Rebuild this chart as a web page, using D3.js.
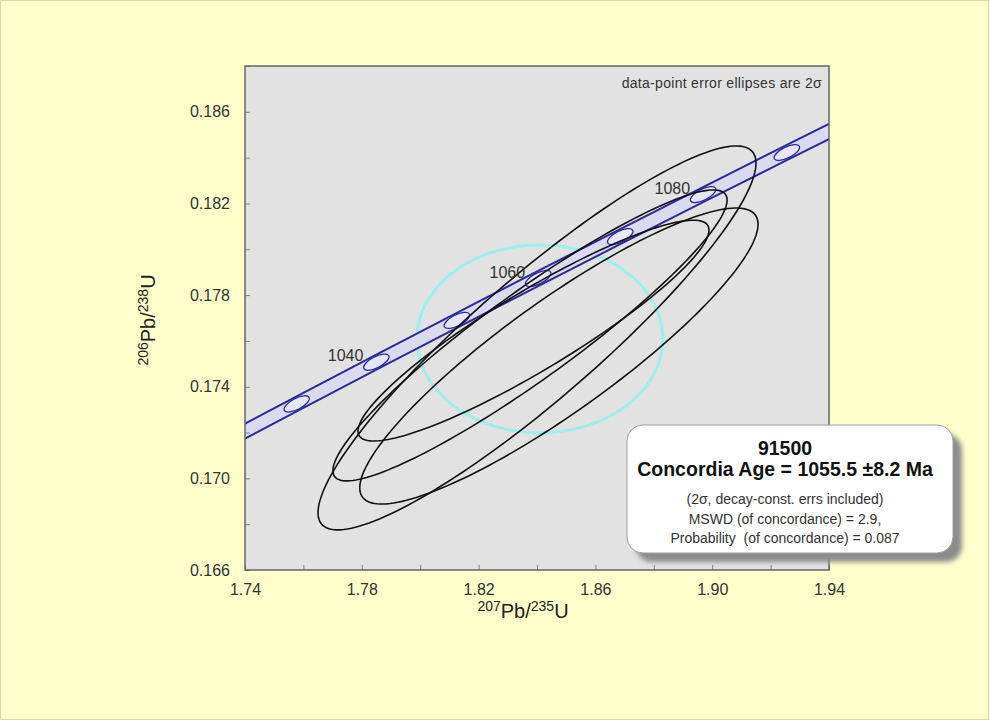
<!DOCTYPE html>
<html>
<head>
<meta charset="utf-8">
<script src="https://cdn.jsdelivr.net/npm/d3@7"></script>
<style>
  html, body { margin: 0; padding: 0; background: #ffffcc; }
  svg { display: block; font-family: Arial, "Liberation Sans", sans-serif; }
</style>
</head>
<body>
<div id="chart-area"></div>
<script>
// concordia curve, ages in Ma, ratios 207Pb/235U (x) and 206Pb/238U (y)
var concAges = [1020, 1030, 1040, 1050, 1060, 1070, 1080, 1090, 1100];
var concX = [1.73067, 1.75770, 1.78499, 1.81255, 1.84039, 1.86850, 1.89689, 1.92556, 1.95452];
var concY = [0.171432, 0.173251, 0.175072, 0.176897, 0.178724, 0.180553, 0.182387, 0.184223, 0.186060];
var bandHalf = 0.00033;   // decay-constant band half width (206/238)
var markerAges = [1030, 1040, 1050, 1060, 1070, 1080, 1090];
var labelAges = [1040, 1060, 1080];

// data-point error ellipses (2 sigma)
var ellX = [1.8400, 1.8376, 1.8475, 1.8388];
var ellY = [0.17613, 0.17624, 0.17534, 0.17645];
var ellSx = [0.0750, 0.0675, 0.0682, 0.0601];
var ellSy = [0.00838, 0.00635, 0.00646, 0.00482];
var ellRho = [0.91, 0.93, 0.89, 0.91];

// cyan ellipse
var meanX = 1.8410, meanY = 0.17609, meanSx = 0.0421, meanSy = 0.0041;

// axes
var xTicks = [1.74, 1.78, 1.82, 1.86, 1.90, 1.94];
var xMinor = [1.76, 1.80, 1.84, 1.88, 1.92];
var yTicks = [0.166, 0.170, 0.174, 0.178, 0.182, 0.186];
var yMinor = [0.168, 0.172, 0.176, 0.180, 0.184, 0.188];

var boxLines = ['91500', 'Concordia Age = 1055.5 \u00b18.2 Ma', '(2\u03c3, decay-const. errs included)',
                'MSWD (of concordance) = 2.9,', 'Probability  (of concordance) = 0.087'];

var W = 989, H = 720;
var margin = { left: 245, top: 66 };
var width = 584, height = 504;

var svg = d3.select('#chart-area').append('svg')
    .attr('width', W).attr('height', H);

var defs = svg.append('defs');
defs.append('clipPath').attr('id', 'plot-clip')
  .append('rect').attr('width', width).attr('height', height);
var blur = defs.append('filter').attr('id', 'shadow').attr('x', '-10%').attr('y', '-10%').attr('width', '130%').attr('height', '130%');
blur.append('feGaussianBlur').attr('stdDeviation', 2.5);

svg.append('rect').attr('x', 0.5).attr('y', 0.5).attr('width', W - 1).attr('height', H - 1)
    .attr('fill', '#ffffcc').attr('stroke', '#d6d6b0');

var g = svg.append('g').attr('transform', 'translate(' + margin.left + ',' + margin.top + ')');

var x = d3.scaleLinear().domain([1.74, 1.94]).range([0, width]);
var y = d3.scaleLinear().domain([0.166, 0.188]).range([height, 0]);

g.append('rect').attr('width', width).attr('height', height).attr('fill', '#e2e2e2');

var plot = g.append('g').attr('clip-path', 'url(#plot-clip)');

// ellipse outline from centre, 2s errors and correlation
function ellipsePts(cx, cy, sx, sy, rho) {
  var pts = [];
  var k = Math.sqrt(1 - rho * rho);
  for (var i = 0; i < 180; i++) {
    var t = i / 180 * 2 * Math.PI;
    pts.push([cx + sx * Math.cos(t), cy + sy * (rho * Math.cos(t) + k * Math.sin(t))]);
  }
  return pts;
}
var ellLine = d3.line().x(function(d) { return x(d[0]); }).y(function(d) { return y(d[1]); }).curve(d3.curveLinearClosed);

// cyan ellipse
plot.append('path')
    .attr('d', ellLine(ellipsePts(meanX, meanY, meanSx, meanSy, 0)))
    .attr('fill', 'none').attr('stroke', '#9eeeee').attr('stroke-width', 3);

// concordia band
var conc = concAges.map(function(a, i) { return { age: a, x: concX[i], y: concY[i] }; });
var band = d3.area()
    .x(function(d) { return x(d.x); })
    .y0(function(d) { return y(d.y - bandHalf); })
    .y1(function(d) { return y(d.y + bandHalf); })
    .curve(d3.curveMonotoneX);
plot.append('path').datum(conc).attr('d', band).attr('fill', '#dadaf0');

['upper', 'lower'].forEach(function(side) {
  var off = side === 'upper' ? bandHalf : -bandHalf;
  plot.append('path').datum(conc)
      .attr('d', d3.line().x(function(d) { return x(d.x); }).y(function(d) { return y(d.y + off); }).curve(d3.curveMonotoneX))
      .attr('fill', 'none').attr('stroke', '#2a2a9c').attr('stroke-width', 2);
});

// age markers
markerAges.forEach(function(a) {
  var i = concAges.indexOf(a);
  var ang = Math.atan2(y(concY[i + 1]) - y(concY[i - 1]), x(concX[i + 1]) - x(concX[i - 1])) * 180 / Math.PI;
  plot.append('ellipse')
      .attr('transform', 'translate(' + x(concX[i]) + ',' + y(concY[i]) + ') rotate(' + ang + ')')
      .attr('rx', 14).attr('ry', 5.5)
      .attr('fill', '#e6e6f6').attr('stroke', '#2a2a9c').attr('stroke-width', 1.3);
});

// data-point ellipses
ellX.forEach(function(cx, i) {
  plot.append('path')
      .attr('d', ellLine(ellipsePts(cx, ellY[i], ellSx[i], ellSy[i], ellRho[i])))
      .attr('fill', 'none').attr('stroke', '#111').attr('stroke-width', 1.6);
});

// age labels
labelAges.forEach(function(a) {
  var i = concAges.indexOf(a);
  g.append('text')
      .attr('x', x(concX[i]) - 13).attr('y', y(concY[i]) - 1)
      .attr('text-anchor', 'end').attr('font-size', 16).attr('fill', '#333')
      .text(a);
});

// axes
var yAxis = d3.axisLeft(y)
    .tickValues(yTicks.concat(yMinor))
    .tickFormat(function(d) { return yTicks.indexOf(d) >= 0 ? d3.format('.3f')(d) : ''; })
    .tickSize(-5).tickPadding(15);
var yg = g.append('g').call(yAxis);

var xAxis = d3.axisBottom(x)
    .tickValues(xTicks.concat(xMinor))
    .tickFormat(function(d) { return xTicks.indexOf(d) >= 0 ? d3.format('.2f')(d) : ''; })
    .tickSize(-5).tickPadding(14);
var xg = g.append('g').attr('transform', 'translate(0,' + height + ')').call(xAxis);

[xg, yg].forEach(function(ax) {
  ax.attr('font-size', 16).attr('font-family', 'Arial, "Liberation Sans", sans-serif');
  ax.select('.domain').remove();
  ax.selectAll('.tick line').attr('stroke', '#808080');
  ax.selectAll('.tick text').attr('fill', '#333');
});

// frame
g.append('rect').attr('width', width).attr('height', height)
    .attr('fill', 'none').attr('stroke', '#666').attr('stroke-width', 1.5);

// annotation
g.append('text')
    .attr('x', width - 7).attr('y', 22)
    .attr('text-anchor', 'end').attr('font-size', 14).attr('fill', '#333')
    .style('letter-spacing', '0.3px')
    .text('data-point error ellipses are 2\u03c3');

// axis titles
var xt = svg.append('text').attr('x', 523).attr('y', 618).attr('text-anchor', 'middle').attr('fill', '#222');
xt.append('tspan').attr('font-size', 14).attr('dy', -7).text('207');
xt.append('tspan').attr('font-size', 20).attr('dy', 7).text('Pb/');
xt.append('tspan').attr('font-size', 14).attr('dy', -7).text('235');
xt.append('tspan').attr('font-size', 20).attr('dy', 7).text('U');

var yt = svg.append('text').attr('transform', 'translate(155,320) rotate(-90)').attr('text-anchor', 'middle').attr('fill', '#222');
yt.append('tspan').attr('font-size', 14).attr('dy', -7).text('206');
yt.append('tspan').attr('font-size', 20).attr('dy', 7).text('Pb/');
yt.append('tspan').attr('font-size', 14).attr('dy', -7).text('238');
yt.append('tspan').attr('font-size', 20).attr('dy', 7).text('U');

// result box
var box = svg.append('g').attr('transform', 'translate(627,425)');
box.append('rect').attr('x', 9).attr('y', 9).attr('width', 326).attr('height', 128).attr('rx', 16)
    .attr('fill', '#8c8c8c').attr('filter', 'url(#shadow)');
box.append('rect').attr('width', 326).attr('height', 128).attr('rx', 16)
    .attr('fill', '#fff').attr('stroke', '#a0a0a0');
var lineY = [30, 51, 79, 99, 118];
boxLines.forEach(function(t, i) {
  box.append('text')
      .attr('x', 158).attr('y', lineY[i])
      .attr('text-anchor', 'middle')
      .attr('font-size', i < 2 ? 19.5 : 14)
      .attr('font-weight', i < 2 ? 'bold' : 'normal')
      .attr('fill', i < 2 ? '#111' : '#333')
      .style('white-space', 'pre')
      .text(t);
});
</script>
</body>
</html>
